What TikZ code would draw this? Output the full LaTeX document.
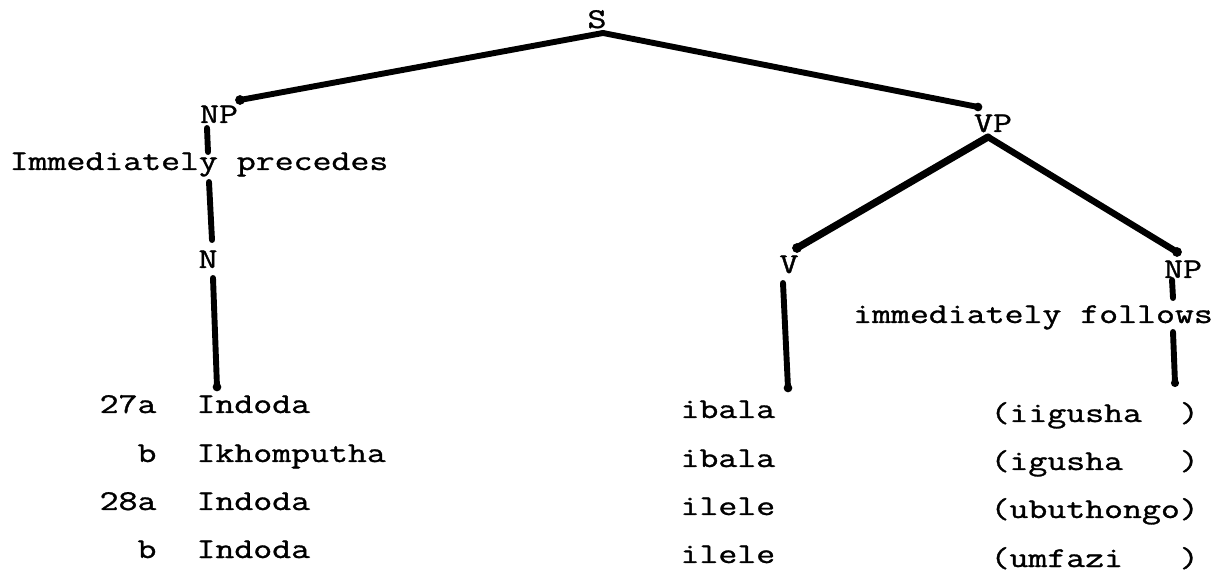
\documentclass[tikz,border=0pt]{standalone}
\usepackage{fontspec}
\newfontfamily\typer{Latin Modern Mono}[FakeBold=1]
\usepackage{tikz}

\tikzset{
  tw/.style={font=\typer\fontsize{13.7}{16}\selectfont, inner sep=0pt, yscale=0.78, transform shape},
  branch/.style={line width=2.2pt, line cap=round},
}

\begin{document}
\begin{tikzpicture}[x=0.131cm,y=0.131cm]
\useasboundingbox (0,0) rectangle (122.1,57.3);

% tree labels
\node[tw, anchor=base] (S) at (59.7,54.5) {S};
\node[tw, anchor=base] (NPa) at (21.9,45.0) {NP};
\node[tw, anchor=base] (VP) at (99.3,44.1) {VP};
\node[tw, anchor=base] (prec) at (19.9,40.3) {Immediately precedes};
\node[tw, anchor=base] (N) at (20.8,30.5) {N};
\node[tw, anchor=base] (V) at (78.9,30.0) {V};
\node[tw, anchor=base] (NPb) at (118.3,29.5) {NP};
\node[tw, anchor=base] (foll) at (103.3,25.0) {immediately follows};

% branch ends
\coordinate (S-b) at (60.3,54.0);
\coordinate (NPa-t) at (24.0,47.3);
\coordinate (VP-t) at (97.8,46.6);
\coordinate (NPa-b) at (20.7,44.5);
\coordinate (prec-t) at (20.8,42.1);
\coordinate (prec-b) at (20.9,39.1);
\coordinate (N-t) at (21.2,33.3);
\coordinate (N-b) at (21.3,29.5);
\coordinate (Na-end) at (21.7,18.6);
\coordinate (VP-b) at (98.8,43.6);
\coordinate (V-t) at (79.7,32.5);
\coordinate (NPb-t) at (117.7,32.1);
\coordinate (V-b) at (78.3,29.0);
\coordinate (V-end) at (78.8,18.5);
\coordinate (NPb-b) at (117.2,29.3);
\coordinate (foll-t) at (117.3,27.5);
\coordinate (foll-b) at (117.3,24.1);
\coordinate (NPb-end) at (117.5,19.0);

\draw[branch] (S-b) -- (NPa-t);
\draw[branch] (S-b) -- (VP-t);
\draw[branch] (NPa-b) -- (prec-t);
\draw[branch] (prec-b) -- (N-t);
\draw[branch] (N-b) -- (Na-end);
\draw[branch, line width=2.7pt] (VP-b) -- (V-t);
\draw[branch, line width=2.4pt] (VP-b) -- (NPb-t);
\draw[branch] (V-b) -- (V-end);
\draw[branch] (NPb-b) -- (foll-t);
\draw[branch] (foll-b) -- (NPb-end);

\filldraw[black] (NPa-t) circle (1.6pt);
\filldraw[black] (VP-t) circle (1.4pt);
\filldraw[black] (V-t) circle (1.6pt);
\filldraw[black] (NPb-t) circle (1.6pt);
\filldraw[black] (Na-end) circle (1.4pt);
\filldraw[black] (V-end) circle (1.4pt);
\filldraw[black] (NPb-end) circle (1.3pt);

% examples
\node[tw, anchor=base east] (n27a) at (15.7,16.0) {27a};
\node[tw, anchor=base east] (n27b) at (15.7,11.1) {b};
\node[tw, anchor=base east] (n28a) at (15.7,6.3) {28a};
\node[tw, anchor=base east] (n28b) at (15.7,1.5) {b};

\node[tw, anchor=base west] (subj1) at (19.6,16.0) {Indoda};
\node[tw, anchor=base west] (subj2) at (19.6,11.1) {Ikhomputha};
\node[tw, anchor=base west] (subj3) at (19.6,6.3) {Indoda};
\node[tw, anchor=base west] (subj4) at (19.6,1.5) {Indoda};

\node[tw, anchor=base west] (verb1) at (68.0,15.5) {ibala};
\node[tw, anchor=base west] (verb2) at (68.0,10.6) {ibala};
\node[tw, anchor=base west] (verb3) at (68.0,5.8) {ilele};
\node[tw, anchor=base west] (verb4) at (68.0,1.0) {ilele};

\node[tw, anchor=base west] (obj1) at (99.0,15.1) {(iigusha\phantom{oo})};
\node[tw, anchor=base west] (obj2) at (99.0,10.3) {(igusha\phantom{ooo})};
\node[tw, anchor=base west] (obj3) at (99.0,5.5) {(ubuthongo)};
\node[tw, anchor=base west] (obj4) at (99.0,0.6) {(umfazi\phantom{ooo})};

\end{tikzpicture}
\end{document}
